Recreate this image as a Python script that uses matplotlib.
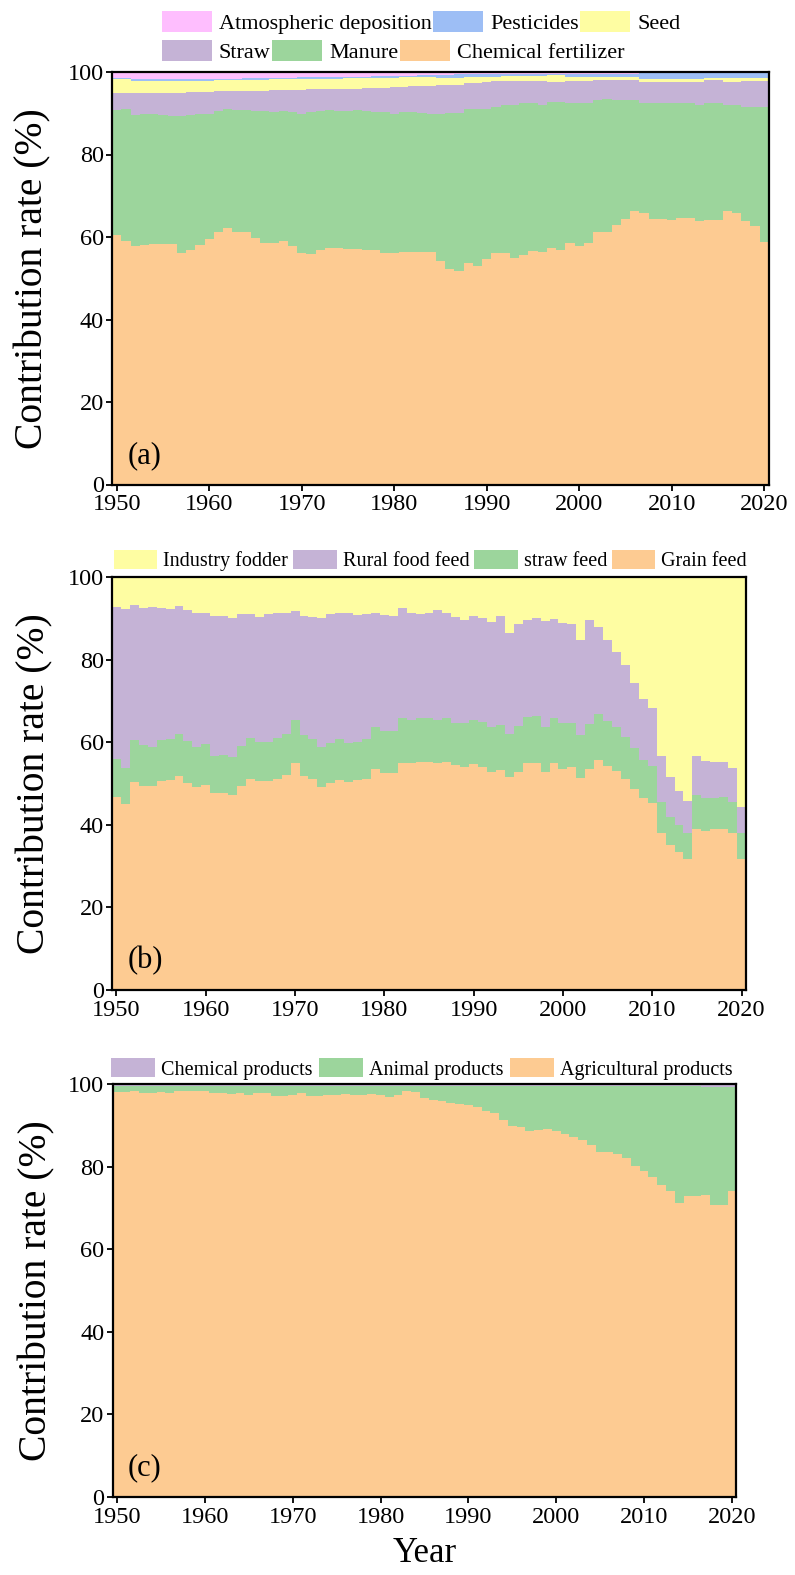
import matplotlib
matplotlib.use("Agg")
import matplotlib.pyplot as plt
from matplotlib.patches import Patch
import numpy as np

plt.rcParams["font.family"] = ["Liberation Serif", "DejaVu Serif"]

years = list(range(1950, 2021))

# ---------------- (a) sources, % ----------------
chemical_fertilizer = [
    60.6, 59.0, 57.8, 58.1, 58.2, 58.2, 58.2, 56.1, 56.8, 58.1,
    59.6, 61.1, 62.3, 61.1, 61.1, 59.8, 58.5, 58.5, 59.0, 57.9,
    56.1, 56.0, 56.8, 57.3, 57.4, 57.1, 57.2, 56.8, 56.8, 56.1,
    56.1, 56.3, 56.4, 56.4, 56.3, 54.1, 52.2, 51.8, 53.6, 53.0,
    54.6, 56.1, 56.2, 54.8, 55.7, 56.5, 56.4, 57.4, 56.8, 58.5,
    57.7, 58.5, 61.1, 61.3, 63.0, 64.3, 66.2, 65.7, 64.3, 64.4,
    64.1, 64.5, 64.5, 64.0, 64.2, 64.2, 66.4, 65.7, 63.9, 62.7,
    58.8]
manure = [
    30.1, 32.0, 31.7, 31.6, 31.7, 31.3, 31.1, 33.2, 32.7, 31.6,
    30.3, 29.4, 28.7, 29.8, 29.6, 30.7, 32.1, 31.8, 31.5, 32.4,
    33.8, 34.3, 33.7, 33.4, 33.2, 33.4, 33.5, 33.7, 33.5, 34.1,
    33.8, 33.9, 33.9, 33.7, 33.6, 35.8, 37.9, 38.2, 37.4, 38.0,
    36.5, 35.4, 35.7, 37.1, 36.8, 36.0, 35.7, 35.3, 35.9, 34.0,
    34.8, 34.0, 32.0, 32.2, 30.3, 28.8, 26.9, 26.8, 28.2, 28.1,
    28.4, 28.0, 28.0, 28.1, 28.3, 28.3, 25.7, 26.4, 27.6, 28.8,
    32.6]
straw = [
    4.3, 4.0, 5.3, 5.1, 4.9, 5.3, 5.5, 5.5, 5.6, 5.4,
    5.2, 4.8, 4.3, 4.5, 4.7, 5.0, 4.9, 5.3, 5.1, 5.4,
    5.8, 5.5, 5.3, 5.2, 5.3, 5.5, 5.3, 5.6, 5.8, 6.0,
    6.4, 6.2, 6.2, 6.5, 6.8, 6.9, 6.8, 6.9, 6.4, 6.4,
    6.5, 6.2, 5.8, 5.9, 5.3, 5.3, 5.7, 4.9, 4.9, 5.3,
    5.3, 5.3, 4.9, 4.5, 4.7, 4.9, 4.9, 5.1, 5.1, 5.1,
    5.1, 5.1, 5.1, 5.5, 5.5, 5.5, 5.5, 5.5, 6.3, 6.3,
    6.4]
seed = [
    3.2, 3.2, 3.0, 3.0, 3.0, 3.0, 3.0, 3.0, 2.8, 2.8,
    2.8, 2.7, 2.7, 2.6, 2.7, 2.6, 2.6, 2.6, 2.6, 2.5,
    2.6, 2.5, 2.6, 2.5, 2.5, 2.5, 2.5, 2.4, 2.5, 2.4,
    2.3, 2.3, 2.2, 2.1, 2.1, 1.7, 1.6, 1.6, 1.4, 1.4,
    1.2, 1.2, 1.3, 1.2, 1.2, 1.2, 1.2, 1.6, 1.6, 1.0,
    1.0, 1.0, 0.8, 0.8, 0.8, 0.8, 0.8, 0.8, 0.8, 0.8,
    0.8, 0.8, 0.8, 0.8, 0.5, 0.5, 0.9, 0.9, 0.7, 0.7,
    0.7]
pesticides = [
    0.3, 0.3, 0.5, 0.5, 0.5, 0.5, 0.5, 0.5, 0.4, 0.4,
    0.4, 0.4, 0.4, 0.4, 0.4, 0.4, 0.4, 0.4, 0.4, 0.4,
    0.4, 0.4, 0.4, 0.4, 0.4, 0.4, 0.4, 0.4, 0.4, 0.4,
    0.4, 0.4, 0.4, 0.5, 0.4, 0.8, 0.8, 0.9, 0.6, 0.6,
    0.6, 0.6, 0.6, 0.6, 0.6, 0.6, 0.6, 0.4, 0.4, 0.8,
    0.8, 0.8, 0.8, 0.8, 0.8, 0.8, 0.8, 1.3, 1.3, 1.3,
    1.3, 1.3, 1.3, 1.3, 1.2, 1.2, 1.2, 1.2, 1.2, 1.2,
    1.2]
atmospheric_deposition = [
    1.5, 1.5, 1.7, 1.7, 1.7, 1.7, 1.7, 1.7, 1.7, 1.7,
    1.7, 1.6, 1.6, 1.6, 1.5, 1.5, 1.5, 1.4, 1.4, 1.4,
    1.3, 1.3, 1.2, 1.2, 1.2, 1.1, 1.1, 1.1, 1.0, 1.0,
    1.0, 0.9, 0.9, 0.8, 0.8, 0.7, 0.7, 0.6, 0.6, 0.6,
    0.6, 0.5, 0.4, 0.4, 0.4, 0.4, 0.4, 0.4, 0.4, 0.4,
    0.4, 0.4, 0.4, 0.4, 0.4, 0.4, 0.4, 0.3, 0.3, 0.3,
    0.3, 0.3, 0.3, 0.3, 0.3, 0.3, 0.3, 0.3, 0.3, 0.3,
    0.3]

# ---------------- (b) feed, % ----------------
grain_feed = [
    46.8, 45.0, 50.4, 49.4, 49.4, 50.7, 50.8, 51.8, 50.2, 49.2,
    49.6, 47.6, 47.6, 47.2, 49.4, 51.0, 50.6, 50.6, 51.1, 52.1,
    55.0, 51.8, 51.0, 49.2, 50.2, 50.8, 50.3, 50.8, 51.1, 53.4,
    52.6, 52.6, 55.0, 54.9, 55.3, 55.3, 55.0, 55.2, 54.5, 54.1,
    54.7, 54.1, 52.9, 53.3, 51.5, 52.9, 54.9, 55.0, 52.9, 54.9,
    53.5, 53.9, 51.4, 53.5, 55.7, 54.2, 53.0, 51.0, 48.7, 46.4,
    45.2, 37.9, 35.0, 33.3, 31.6, 39.1, 38.6, 38.9, 39.1, 38.1,
    31.6]
straw_feed = [
    9.1, 8.7, 10.1, 9.9, 9.5, 9.8, 9.9, 10.3, 10.2, 9.7,
    10.0, 9.1, 9.3, 9.3, 9.7, 10.1, 9.5, 9.5, 10.0, 9.9,
    10.4, 9.9, 9.7, 9.6, 9.5, 9.9, 9.4, 9.3, 9.6, 10.2,
    10.0, 10.0, 10.9, 10.5, 10.6, 10.5, 10.4, 10.6, 10.1, 10.5,
    10.7, 10.9, 10.9, 10.9, 10.6, 11.0, 11.3, 11.3, 10.9, 11.0,
    11.1, 10.8, 10.3, 10.9, 11.1, 10.9, 10.6, 10.2, 9.8, 9.4,
    9.0, 7.7, 7.0, 6.7, 6.3, 8.1, 7.8, 7.7, 7.7, 7.5,
    6.3]
rural_food_feed = [
    36.9, 38.5, 32.7, 33.1, 33.8, 31.9, 31.5, 30.9, 31.6, 32.5,
    31.6, 33.9, 33.7, 33.5, 31.9, 29.9, 30.1, 30.9, 30.1, 29.2,
    26.4, 28.9, 29.7, 31.2, 31.3, 30.5, 31.7, 30.6, 30.3, 27.8,
    28.2, 28.0, 26.5, 25.8, 25.1, 25.5, 26.6, 25.4, 25.8, 25.1,
    25.2, 25.0, 25.4, 26.4, 24.3, 24.6, 23.4, 23.7, 25.6, 23.9,
    24.2, 23.8, 23.0, 25.3, 21.0, 19.6, 18.2, 17.5, 15.9, 14.6,
    14.2, 11.1, 9.5, 8.3, 7.9, 9.5, 9.0, 8.5, 8.3, 8.1,
    6.3]
industry_fodder = [
    7.2, 7.8, 6.8, 7.6, 7.3, 7.6, 7.8, 7.0, 8.0, 8.6,
    8.8, 9.4, 9.4, 10.0, 9.0, 9.0, 9.8, 9.0, 8.8, 8.8,
    8.2, 9.4, 9.6, 10.0, 9.0, 8.8, 8.6, 9.3, 9.0, 8.6,
    9.2, 9.4, 7.6, 8.8, 9.0, 8.7, 8.0, 8.8, 9.6, 10.3,
    9.4, 10.0, 10.8, 9.4, 13.6, 11.5, 10.4, 10.0, 10.6, 10.2,
    11.2, 11.5, 15.3, 10.3, 12.2, 15.3, 18.2, 21.3, 25.6, 29.6,
    31.6, 43.3, 48.5, 51.7, 54.2, 43.3, 44.6, 44.9, 44.9, 46.3,
    55.8]

# ---------------- (c) products, % ----------------
agricultural_products = [
    98.0, 98.0, 98.2, 97.8, 97.8, 98.0, 97.8, 98.2, 98.2, 98.2,
    98.4, 97.8, 97.8, 97.6, 97.7, 97.4, 97.8, 97.7, 97.0, 97.0,
    97.4, 97.7, 97.0, 97.2, 97.4, 97.4, 97.6, 97.4, 97.4, 97.6,
    97.4, 96.8, 97.4, 98.4, 98.1, 96.5, 96.2, 95.8, 95.4, 95.2,
    95.0, 94.4, 93.5, 93.0, 91.4, 89.9, 89.5, 88.5, 88.9, 89.2,
    88.7, 87.9, 87.1, 86.5, 85.3, 83.5, 83.5, 83.1, 82.1, 80.2,
    79.0, 77.5, 75.5, 74.0, 71.2, 72.8, 73.0, 73.1, 70.6, 70.6,
    74.0]
animal_products = [
    1.6, 1.6, 1.4, 1.8, 1.8, 1.6, 1.8, 1.4, 1.4, 1.4,
    1.2, 1.8, 1.8, 2.0, 1.9, 2.2, 1.8, 1.9, 2.6, 2.6,
    2.2, 1.9, 2.6, 2.4, 2.2, 2.2, 2.0, 2.2, 2.2, 2.0,
    2.2, 2.8, 2.2, 1.2, 1.5, 3.1, 3.4, 3.8, 4.2, 4.4,
    4.6, 5.2, 6.1, 6.6, 8.2, 9.7, 10.1, 11.1, 10.7, 10.4,
    10.9, 11.7, 12.5, 13.1, 14.3, 16.1, 16.1, 16.5, 17.5, 19.4,
    20.6, 22.1, 24.1, 25.6, 28.4, 26.8, 26.6, 26.2, 28.7, 28.7,
    25.3]
chemical_products = [
    0.4, 0.4, 0.4, 0.4, 0.4, 0.4, 0.4, 0.4, 0.4, 0.4,
    0.4, 0.4, 0.4, 0.4, 0.4, 0.4, 0.4, 0.4, 0.4, 0.4,
    0.4, 0.4, 0.4, 0.4, 0.4, 0.4, 0.4, 0.4, 0.4, 0.4,
    0.4, 0.4, 0.4, 0.4, 0.4, 0.4, 0.4, 0.4, 0.4, 0.4,
    0.4, 0.4, 0.4, 0.4, 0.4, 0.4, 0.4, 0.4, 0.4, 0.4,
    0.4, 0.4, 0.4, 0.4, 0.4, 0.4, 0.4, 0.4, 0.4, 0.4,
    0.4, 0.4, 0.4, 0.4, 0.4, 0.4, 0.4, 0.7, 0.7, 0.7,
    0.7]

ORANGE = "#FDCB92"
GREEN = "#9CD59C"
PURPLE = "#C5B3D6"
YELLOW = "#FEFDA2"
BLUE = "#9DBEF5"
PINK = "#FEBEFE"

W, H = 795, 1575
fig = plt.figure(figsize=(W / 100, H / 100), dpi=100)


def px_axes(left, right, top, bottom):
    return fig.add_axes([left / W, 1 - bottom / H, (right - left) / W, (bottom - top) / H])


def stack(ax, layers):
    base = np.zeros(len(years))
    for vals, color in layers:
        v = np.asarray(vals, dtype=float)
        ax.bar(years, v, width=1.0, bottom=base, color=color,
               linewidth=0, antialiased=False)
        base = base + v


def style(ax, tag):
    ax.set_xlim(1949.5, 2020.5)
    ax.set_ylim(0, 100)
    ax.set_xticks(range(1950, 2021, 10))
    ax.set_yticks(range(0, 101, 20))
    ax.tick_params(direction="out", length=4, width=1.3, labelsize=17.5)
    ax.tick_params(axis="x", pad=3)
    ax.tick_params(axis="y", pad=2)
    for s in ax.spines.values():
        s.set_linewidth(1.6)
        s.set_color("black")
    ax.set_ylabel("Contribution rate (%)", fontsize=28.5)
    ax.yaxis.set_label_coords(-0.092, 0.5)
    ax.text(0.024, 0.035, tag, transform=ax.transAxes, fontsize=22,
            ha="left", va="bottom")


def legend_row(items, x, y, fs, hl, hh, cs):
    handles = [Patch(facecolor=c, edgecolor="none") for _, c in items]
    labels = [n for n, _ in items]
    return fig.legend(handles, labels, loc="upper left",
                      bbox_to_anchor=(x / W, 1 - y / H), ncol=len(items),
                      frameon=False, fontsize=fs, handlelength=hl,
                      handleheight=hh, handletextpad=0.3, columnspacing=cs,
                      borderpad=0, borderaxespad=0)


# (a)
ax1 = px_axes(112, 769, 72, 484.5)
stack(ax1, [(chemical_fertilizer, ORANGE), (manure, GREEN), (straw, PURPLE),
            (seed, YELLOW), (pesticides, BLUE), (atmospheric_deposition, PINK)])
style(ax1, "(a)")
legend_row([("Atmospheric deposition", PINK), ("Pesticides", BLUE),
            ("Seed", YELLOW)], 162, 11, 16, 2.25, 1.1, 0.08)
legend_row([("Straw", PURPLE), ("Manure", GREEN),
            ("Chemical fertilizer", ORANGE)], 162, 40, 16, 2.25, 1.1, 0.08)

# (b)
ax2 = px_axes(112, 746, 577, 990)
stack(ax2, [(grain_feed, ORANGE), (straw_feed, GREEN),
            (rural_food_feed, PURPLE), (industry_fodder, YELLOW)])
style(ax2, "(b)")
legend_row([("Industry fodder", YELLOW), ("Rural food feed", PURPLE),
            ("straw feed", GREEN), ("Grain feed", ORANGE)],
           114, 550, 14.5, 2.15, 1.05, 0.25)

# (c)
ax3 = px_axes(112.6, 736.3, 1084, 1497)
stack(ax3, [(agricultural_products, ORANGE), (animal_products, GREEN),
            (chemical_products, PURPLE)])
style(ax3, "(c)")
legend_row([("Chemical products", PURPLE), ("Animal products", GREEN),
            ("Agricultural products", ORANGE)],
           111, 1058, 14.5, 2.2, 1.1, 0.3)
ax3.set_xlabel("Year", fontsize=25, labelpad=7)

fig.savefig("out.png", dpi=100)
